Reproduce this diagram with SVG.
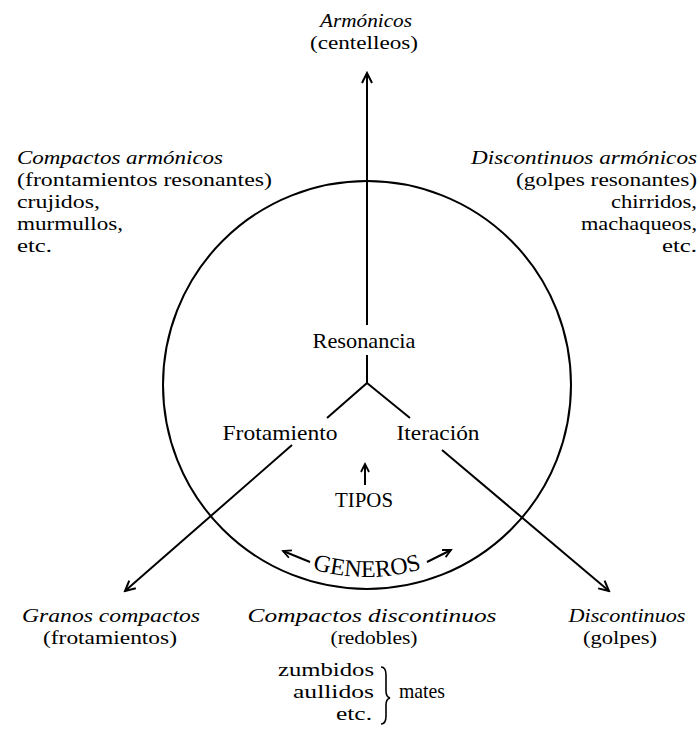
<svg xmlns="http://www.w3.org/2000/svg" width="699" height="733" viewBox="0 0 699 733">
<style>
text{font-family:"Liberation Serif","Times New Roman",serif;font-size:19.5px;fill:#000}
.big{font-size:22px}
.it{font-style:italic}
.m{text-anchor:middle}
.e{text-anchor:end}
.ln{fill:none;stroke:#000;stroke-width:2}
</style>
<defs>
<marker id="ah" viewBox="-12 -7 14 14" refX="0" refY="0" markerWidth="14" markerHeight="14" markerUnits="userSpaceOnUse" orient="auto">
<path d="M-10,-5 L0,0 L-10,5" fill="none" stroke="#000" stroke-width="2"/>
</marker>
<marker id="as" viewBox="-10 -6 12 12" refX="0" refY="0" markerWidth="12" markerHeight="12" markerUnits="userSpaceOnUse" orient="auto">
<path d="M-8,-4 L0,0 L-8,4" fill="none" stroke="#000" stroke-width="1.8"/>
</marker>
<path id="garc" d="M 243.6 532.1 A 192 192 0 0 0 490.4 532.1"/>
</defs>

<g id="circle"><circle cx="367" cy="385" r="204" class="ln"/></g>

<g id="connectors">
<path class="ln" d="M367,325 L367,73" marker-end="url(#ah)"/>
<path class="ln" d="M367,355 L367,383 L327,418 M367,383 L410,418"/>
<path class="ln" d="M292,445 L125,591" marker-end="url(#ah)"/>
<path class="ln" d="M442,450 L609,591" marker-end="url(#ah)"/>
<path class="ln" d="M365,485 L365,464" marker-end="url(#as)"/>
<path class="ln" d="M310,562 L283,551" marker-end="url(#as)"/>
<path class="ln" d="M427,562 L451,550" marker-end="url(#as)"/>
<path d="M381,667 Q386,667 386,675 L386,691 Q386,697 390,698 Q386,699 386,705 L386,716 Q386,724 381,724" fill="none" stroke="#000" stroke-width="1.6"/>
</g>

<g id="armonicos">
<text class="it m" x="366" y="27" textLength="92" lengthAdjust="spacingAndGlyphs">Armónicos</text>
<text class="m" x="364" y="49" textLength="108" lengthAdjust="spacingAndGlyphs">(centelleos)</text>
</g>

<g id="compactos-armonicos">
<text class="it" x="17" y="164" textLength="206" lengthAdjust="spacingAndGlyphs">Compactos armónicos</text>
<text x="17" y="186" textLength="255" lengthAdjust="spacingAndGlyphs">(frontamientos resonantes)</text>
<text x="17" y="208" textLength="83" lengthAdjust="spacingAndGlyphs">crujidos,</text>
<text x="17" y="230" textLength="106" lengthAdjust="spacingAndGlyphs">murmullos,</text>
<text x="17" y="252" textLength="35" lengthAdjust="spacingAndGlyphs">etc.</text>
</g>

<g id="discontinuos-armonicos">
<text class="it e" x="697" y="164" textLength="226" lengthAdjust="spacingAndGlyphs">Discontinuos armónicos</text>
<text class="e" x="697" y="186" textLength="181" lengthAdjust="spacingAndGlyphs">(golpes resonantes)</text>
<text class="e" x="697" y="208" textLength="86" lengthAdjust="spacingAndGlyphs">chirridos,</text>
<text class="e" x="697" y="230" textLength="116" lengthAdjust="spacingAndGlyphs">machaqueos,</text>
<text class="e" x="697" y="252" textLength="35" lengthAdjust="spacingAndGlyphs">etc.</text>
</g>

<g id="resonancia"><text class="big m" x="364" y="348" textLength="103" lengthAdjust="spacingAndGlyphs">Resonancia</text></g>
<g id="frotamiento"><text class="big m" x="280" y="440" textLength="115" lengthAdjust="spacingAndGlyphs">Frotamiento</text></g>
<g id="iteracion"><text class="big m" x="438" y="440" textLength="83" lengthAdjust="spacingAndGlyphs">Iteración</text></g>
<g id="tipos"><text class="big m" x="364" y="507" textLength="58" lengthAdjust="spacingAndGlyphs">TIPOS</text></g>
<g id="generos"><text style="font-size:24px"><textPath href="#garc" startOffset="50%" text-anchor="middle">GENEROS</textPath></text></g>

<g id="granos-compactos">
<text class="it m" x="111" y="622" textLength="178" lengthAdjust="spacingAndGlyphs">Granos compactos</text>
<text class="m" x="110" y="644" textLength="134" lengthAdjust="spacingAndGlyphs">(frotamientos)</text>
</g>

<g id="compactos-discontinuos">
<text class="it m" x="372" y="622" textLength="249" lengthAdjust="spacingAndGlyphs">Compactos discontinuos</text>
<text class="m" x="374" y="644" textLength="87" lengthAdjust="spacingAndGlyphs">(redobles)</text>
</g>

<g id="discontinuos">
<text class="it m" x="627" y="622" textLength="117" lengthAdjust="spacingAndGlyphs">Discontinuos</text>
<text class="m" x="620" y="644" textLength="74" lengthAdjust="spacingAndGlyphs">(golpes)</text>
</g>

<g id="mates">
<text class="e" x="374" y="676" textLength="96" lengthAdjust="spacingAndGlyphs">zumbidos</text>
<text class="e" x="374" y="698" textLength="81" lengthAdjust="spacingAndGlyphs">aullidos</text>
<text class="e" x="372" y="720" textLength="36" lengthAdjust="spacingAndGlyphs">etc.</text>
<text class="big" x="399" y="698" textLength="46" lengthAdjust="spacingAndGlyphs">mates</text>
</g>
</svg>
